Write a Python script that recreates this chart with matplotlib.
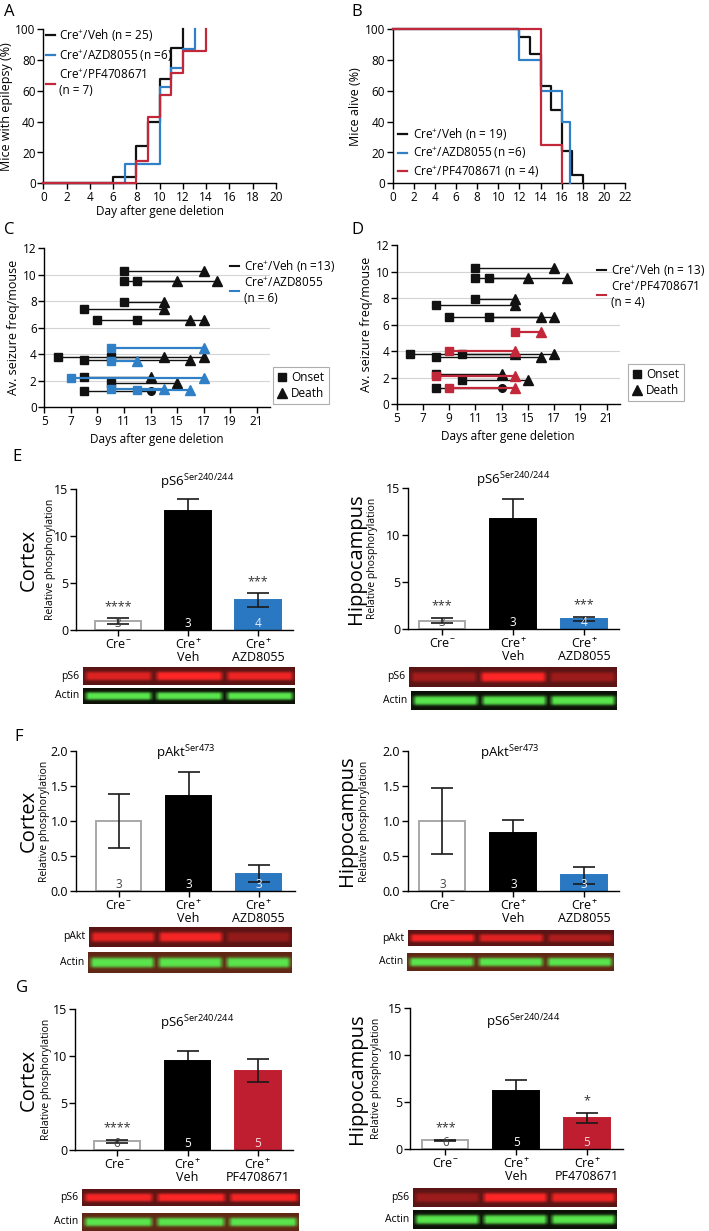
import numpy as np
import matplotlib
matplotlib.use('Agg')
import matplotlib.pyplot as plt
from matplotlib.lines import Line2D

plt.rcParams['font.family'] = ['Open Sans', 'DejaVu Sans']
plt.rcParams['mathtext.fontset'] = 'custom'
plt.rcParams['mathtext.rm'] = 'Open Sans'
plt.rcParams['mathtext.it'] = 'Open Sans:italic'
plt.rcParams['mathtext.bf'] = 'Open Sans:bold'
plt.rcParams['axes.linewidth'] = 1.0

# ---- A: onset of epilepsy (cumulative %)
a_days_veh = [0, 6, 8, 9, 10, 11, 12]
a_pct_veh = [0, 4, 24, 40, 68, 88, 100]
a_days_azd = [0, 7, 10, 11, 12, 13]
a_pct_azd = [0, 12.5, 62.5, 75, 87.5, 100]
a_days_pf = [0, 8, 9, 10, 11, 12, 14]
a_pct_pf = [0, 14.3, 42.9, 57.1, 71.4, 85.7, 100]

# ---- B: survival (%)
b_days_veh = [0, 12, 13, 14, 15, 16, 17, 18]
b_pct_veh = [100, 94.7, 84.2, 63.2, 47.4, 21.1, 5.3, 0]
b_days_azd = [0, 12, 14, 16, 16.8]
b_pct_azd = [100, 80, 60, 40, 0]
b_days_pf = [0, 14, 16]
b_pct_pf = [100, 25, 0]

# ---- C/D: seizure frequency, onset -> death per mouse
veh_onset = [11, 11, 12, 11, 8, 9, 12, 6, 10, 8, 8, 10, 8]
veh_death = [17, 18, 15, 14, 14, 17, 16, 17, 14, 16, 13, 15, 13]
veh_freq = [10.3, 9.5, 9.5, 7.95, 7.45, 6.6, 6.6, 3.8, 3.8, 3.55, 2.25, 1.8, 1.2]
veh_end = ['^'] * 12 + ['o']
azd_onset = [10, 10, 7, 10, 12]
azd_death = [17, 12, 17, 14, 16]
azd_freq = [4.45, 3.5, 2.2, 1.35, 1.3]
pf_onset = [14, 9, 8, 9]
pf_death = [16, 14, 14, 14]
pf_freq = [5.45, 4.05, 2.1, 1.2]

# ---- E/F/G: western blot quantification
labels_azd = ['Cre$^{-}$', 'Cre$^{+}$\nVeh', 'Cre$^{+}$\nAZD8055']
labels_pf = ['Cre$^{-}$', 'Cre$^{+}$\nVeh', 'Cre$^{+}$\nPF4708671']

e_ctx_mean = [0.92, 12.7, 3.2]
e_ctx_sem = [0.32, 1.3, 0.7]
e_ctx_n = [3, 3, 4]
e_ctx_stars = ['****', '', '***']
e_hip_mean = [0.92, 11.75, 1.1]
e_hip_sem = [0.25, 2.1, 0.2]
e_hip_n = [3, 3, 4]
e_hip_stars = ['***', '', '***']

f_ctx_mean = [1.0, 1.36, 0.25]
f_ctx_sem = [0.38, 0.33, 0.12]
f_ctx_n = [3, 3, 3]
f_hip_mean = [1.0, 0.83, 0.23]
f_hip_sem = [0.47, 0.19, 0.12]
f_hip_n = [3, 3, 3]

g_ctx_mean = [0.95, 9.5, 8.45]
g_ctx_sem = [0.16, 1.03, 1.2]
g_ctx_n = [6, 5, 5]
g_ctx_stars = ['****', '', '']
g_hip_mean = [0.95, 6.2, 3.35]
g_hip_sem = [0.08, 1.17, 0.5]
g_hip_n = [6, 5, 5]
g_hip_stars = ['***', '', '*']

# band strength per lane (Cre-, Veh, drug) for the blot strips
e_ctx_ps6 = [0.8, 1.0, 0.9]
e_hip_ps6 = [0.45, 1.0, 0.4]
f_ctx_pakt = [0.85, 0.95, 0.35]
f_hip_pakt = [0.95, 0.8, 0.5]
g_ctx_ps6 = [0.95, 1.0, 0.95]
g_hip_ps6 = [0.4, 1.0, 0.9]
actin = [1.0, 1.0, 1.0]

BLACK = '#111111'
BLUE = '#2f80c6'
RED = '#c3283a'
BAR_BLUE = '#2a78c2'
BAR_RED = '#bf1e30'

W, H = 709, 1231
fig = plt.figure(figsize=(W / 100, H / 100), dpi=100)


def px_axes(x0, y0, x1, y1):
    return fig.add_axes([x0 / W, 1 - y1 / H, (x1 - x0) / W, (y1 - y0) / H])


def fig_pt(x, y):
    return (x / W, 1 - y / H)


def style(ax, size=8.5):
    ax.spines['top'].set_visible(False)
    ax.spines['right'].set_visible(False)
    ax.tick_params(direction='out', length=4, width=1, labelsize=size, pad=1.5)


def letter(x, y, s):
    fig.text(x / W, 1 - y / H, s, fontsize=12, ha='left', va='center')


sup = lambda name: 'Cre$^{+}$/' + name

# ---------------- A
ax = px_axes(43.3, 29.3, 276, 183.3)
style(ax)
ax.step(a_days_veh, a_pct_veh, where='post', color=BLACK, lw=1.6, clip_on=False, zorder=3)
ax.step(a_days_azd, a_pct_azd, where='post', color=BLUE, lw=1.6, clip_on=False, zorder=4)
ax.step(a_days_pf, a_pct_pf, where='post', color=RED, lw=1.6, clip_on=False, zorder=5)
ax.set_xlim(0, 20)
ax.set_ylim(0, 100)
ax.set_xticks(range(0, 21, 2))
ax.set_yticks(range(0, 101, 20))
ax.set_xlabel('Day after gene deletion', fontsize=8.5, labelpad=1)
ax.set_ylabel('Mice with epilepsy (%)', fontsize=9, labelpad=2)
hA = [Line2D([], [], color=c, lw=1.6) for c in (BLACK, BLUE, RED)]
ax.legend(hA, [sup('Veh (n = 25)'), sup('AZD8055 (n =6)'), sup('PF4708671\n(n = 7)')],
          loc='upper left', bbox_to_anchor=fig_pt(46, 27), bbox_transform=fig.transFigure,
          frameon=False, fontsize=8.5, handlelength=0.8, handletextpad=0.3,
          labelspacing=0.4, borderaxespad=0, borderpad=0)
letter(4, 12, 'A')

# ---------------- B
ax = px_axes(392.7, 29.3, 625, 183.3)
style(ax)
ax.step(b_days_veh, b_pct_veh, where='post', color=BLACK, lw=1.6, clip_on=False, zorder=3)
ax.step(b_days_azd, b_pct_azd, where='post', color=BLUE, lw=1.6, clip_on=False, zorder=4)
ax.step(b_days_pf, b_pct_pf, where='post', color=RED, lw=1.6, clip_on=False, zorder=5)
ax.set_xlim(0, 22)
ax.set_ylim(0, 100)
ax.set_xticks(range(0, 23, 2))
ax.set_yticks(range(0, 101, 20))
ax.set_ylabel('Mice alive (%)', fontsize=9, labelpad=2)
ax.legend(hA, [sup('Veh (n = 19)'), sup('AZD8055 (n =6)'), sup('PF4708671 (n = 4)')],
          loc='upper left', bbox_to_anchor=fig_pt(398, 126), bbox_transform=fig.transFigure,
          frameon=False, fontsize=8.5, handlelength=0.8, handletextpad=0.5,
          labelspacing=0.25, borderaxespad=0, borderpad=0)
letter(351, 12, 'B')


# ---------------- C / D
def seizure_panel(rect, drug_on, drug_off, drug_y, drug_color, drug_label, leg1, leg2):
    ax = px_axes(*rect)
    style(ax)
    for y in range(2, 11, 2):
        ax.axhline(y, color='#d4d4d4', lw=0.8, zorder=0)
    for x0, x1, y, m in zip(veh_onset, veh_death, veh_freq, veh_end):
        ax.plot([x0, x1], [y, y], color=BLACK, lw=1.0, zorder=2)
        ax.plot(x0, y, 's', color=BLACK, ms=5.5, zorder=3)
        ax.plot(x1, y, m, color=BLACK, ms=7 if m == '^' else 5.5, zorder=3)
    for x0, x1, y in zip(drug_on, drug_off, drug_y):
        ax.plot([x0, x1], [y, y], color=drug_color, lw=1.6, zorder=4)
        ax.plot(x0, y, 's', color=drug_color, ms=5.5, zorder=5)
        ax.plot(x1, y, '^', color=drug_color, ms=7, zorder=5)
    ax.set_xlim(5, 22)
    ax.set_ylim(0, 12)
    ax.set_xticks(range(5, 22, 2))
    ax.set_yticks(range(0, 13, 2))
    ax.set_ylabel('Av. seizure freq/mouse', fontsize=9, labelpad=2)
    ax.set_xlabel('Days after gene deletion', fontsize=8.5, labelpad=4)
    l1 = ax.legend([Line2D([], [], color=BLACK, lw=1.5), Line2D([], [], color=drug_color, lw=1.5)],
                   [sup('Veh ' + drug_label[0]), sup(drug_label[1])],
                   loc='upper left', bbox_to_anchor=fig_pt(*leg1), bbox_transform=fig.transFigure,
                   frameon=False, fontsize=8.5, handlelength=0.8, handletextpad=0.4,
                   labelspacing=0.15, borderaxespad=0, borderpad=0)
    ax.add_artist(l1)
    mk = [Line2D([], [], marker='s', color=BLACK, ls='none', ms=5.5),
          Line2D([], [], marker='^', color=BLACK, ls='none', ms=7)]
    l2 = ax.legend(mk, ['Onset', 'Death'], loc='upper left', bbox_to_anchor=fig_pt(*leg2),
                   bbox_transform=fig.transFigure, frameon=True, fontsize=8.5, handlelength=0.8,
                   handletextpad=0.4, labelspacing=0.25, borderaxespad=0, borderpad=0.35,
                   fancybox=False, edgecolor='#9a9a9a')
    l2.get_frame().set_linewidth(0.8)
    return ax


seizure_panel((44.3, 248.3, 270, 407.3), azd_onset, azd_death, azd_freq, BLUE,
              ['(n =13)', 'AZD8055\n(n = 6)'], (230, 258), (273, 367))
letter(4, 230, 'C')
seizure_panel((396.7, 245, 619.8, 404.3), pf_onset, pf_death, pf_freq, RED,
              ['(n = 13)', 'PF4708671\n(n = 4)'], (597, 262), (628, 364))
letter(351, 230, 'D')
letter(12, 457, 'E')
letter(14, 737, 'F')
letter(16, 988, 'G')


# ---------------- bar panels
def bar_panel(rect, xlim, ylim, yticks, yfmt, means, sems, ns, stars, labels, drug_color,
              title, title_xy, organ, organ_x, rel_x):
    ax = px_axes(*rect)
    style(ax, 9)
    x = np.arange(3)
    fills = ['white', 'black', drug_color]
    edges = ['#a8a8a8', 'black', drug_color]
    ax.bar(x, means, width=0.65, color=fills, edgecolor=edges, linewidth=1.4, zorder=2)
    for xi, m, s, z in zip(x, means, sems, (3, 1, 3)):
        ax.errorbar(xi, m, yerr=s, fmt='none', ecolor='#1a1a1a', elinewidth=1.2,
                    capsize=8, capthick=1.2, zorder=z)
    ncol = ['#444444', 'white', '#e8eef8' if drug_color == BAR_BLUE else '#f6dde0']
    for xi, n, c in zip(x, ns, ncol):
        ax.text(xi, 0, str(n), ha='center', va='bottom', fontsize=8.5, color=c, zorder=4)
    for xi, m, s, st in zip(x, means, sems, stars):
        if st:
            ax.annotate(st, (xi, m + s), xytext=(0, 4), textcoords='offset points',
                        ha='center', va='bottom', fontsize=9, color='#333333')
    ax.set_xlim(*xlim)
    ax.set_ylim(*ylim)
    ax.set_yticks(yticks)
    ax.set_yticklabels([yfmt.format(v) for v in yticks])
    ax.set_xticks(x)
    ax.set_xticklabels(labels, fontsize=9, linespacing=0.95)
    ax.text(title_xy[0], title_xy[1], title, transform=ax.transAxes, ha='center',
            va='center', fontsize=9.5)
    yc = 1 - (rect[1] + rect[3]) / 2 / H
    fig.text(rel_x / W, yc, 'Relative phosphorylation', rotation=90, ha='center',
             va='center', fontsize=7.5)
    fig.text(organ_x / W, yc, organ, rotation=90, ha='center', va='center', fontsize=14.5)
    return ax


def blot(rect, lanes, band, bg, label):
    ax = px_axes(*rect)
    ax.set_axis_off()
    h, w = 40, 300
    yy = np.linspace(-1, 1, h)[:, None]
    xx = np.linspace(0, 3, w, endpoint=False)[None, :]
    lane = np.floor(xx).astype(int)
    frac = xx - lane
    edge = np.clip(np.minimum(frac, 1 - frac) / 0.08, 0, 1)
    amp = np.array(lanes)[lane] * edge
    prof = np.exp(-(yy / 0.5) ** 4) * amp
    img = np.array(bg)[None, None, :] + prof[:, :, None] * (np.array(band) - np.array(bg))[None, None, :]
    ax.imshow(np.clip(img, 0, 1), aspect='auto', extent=(0, 1, 0, 1), interpolation='bilinear')
    fig.text((rect[0] - 4) / W, 1 - (rect[1] + rect[3]) / 2 / H, label, ha='right',
             va='center', fontsize=7.5)


red_band = (1.0, 0.15, 0.15)
green_band = (0.35, 0.9, 0.3)
red_bg = (0.36, 0.08, 0.08)
dark_bg = (0.05, 0.07, 0.03)
brown_bg = (0.38, 0.16, 0.08)

ps6 = 'pS6$^{\\mathregular{Ser240/244}}$'
pakt = 'pAkt$^{\\mathregular{Ser473}}$'

# E
bar_panel((76, 489.3, 293, 630), (-0.6, 2.5), (0, 15), [0, 5, 10, 15], '{:g}',
          e_ctx_mean, e_ctx_sem, e_ctx_n, e_ctx_stars, labels_azd, BAR_BLUE,
          ps6, (0.56, 1.05), 'Cortex', 29, 50)
blot((83, 667, 295, 685), e_ctx_ps6, red_band, red_bg, 'pS6')
blot((83, 688, 295, 704), actin, green_band, dark_bg, 'Actin')
bar_panel((407.7, 488.3, 619, 629.3), (-0.48, 2.49), (0, 15), [0, 5, 10, 15], '{:g}',
          e_hip_mean, e_hip_sem, e_hip_n, e_hip_stars, labels_azd, BAR_BLUE,
          ps6, (0.50, 1.06), 'Hippocampus', 356, 373)
blot((409, 667, 617, 687), e_hip_ps6, red_band, red_bg, 'pS6')
blot((411, 691, 617, 710), actin, green_band, dark_bg, 'Actin')

# F
bar_panel((76, 750.7, 295, 891.3), (-0.61, 2.52), (0, 2), [0, 0.5, 1.0, 1.5, 2.0], '{:.1f}',
          f_ctx_mean, f_ctx_sem, f_ctx_n, ['', '', ''], labels_azd, BAR_BLUE,
          pakt, (0.50, 0.985), 'Cortex', 29, 45)
blot((89, 927, 292, 947), f_ctx_pakt, red_band, red_bg, 'pAkt')
blot((88, 952, 292, 973), actin, green_band, brown_bg, 'Actin')
bar_panel((407.7, 751, 619, 891.3), (-0.49, 2.49), (0, 2), [0, 0.5, 1.0, 1.5, 2.0], '{:.1f}',
          f_hip_mean, f_hip_sem, f_hip_n, ['', '', ''], labels_azd, BAR_BLUE,
          pakt, (0.485, 0.985), 'Hippocampus', 347, 364)
blot((408, 930, 614, 946), f_hip_pakt, red_band, red_bg, 'pAkt')
blot((407, 953, 614, 971), actin, green_band, brown_bg, 'Actin')

# G
bar_panel((75, 1009, 293, 1150), (-0.6, 2.5), (0, 15), [0, 5, 10, 15], '{:g}',
          g_ctx_mean, g_ctx_sem, g_ctx_n, g_ctx_stars, labels_pf, BAR_RED,
          ps6, (0.56, 0.90), 'Cortex', 29, 46)
blot((82, 1189, 300, 1206), g_ctx_ps6, red_band, red_bg, 'pS6')
blot((82, 1213, 299, 1231), actin, green_band, brown_bg, 'Actin')
bar_panel((410, 1008.3, 623, 1149.3), (-0.5, 2.51), (0, 15), [0, 5, 10, 15], '{:g}',
          g_hip_mean, g_hip_sem, g_hip_n, g_hip_stars, labels_pf, BAR_RED,
          ps6, (0.53, 0.90), 'Hippocampus', 357, 377)
blot((413, 1188, 617, 1207), g_hip_ps6, red_band, red_bg, 'pS6')
blot((413, 1210, 617, 1229), actin, green_band, dark_bg, 'Actin')

fig.savefig('out.png', dpi=100)
